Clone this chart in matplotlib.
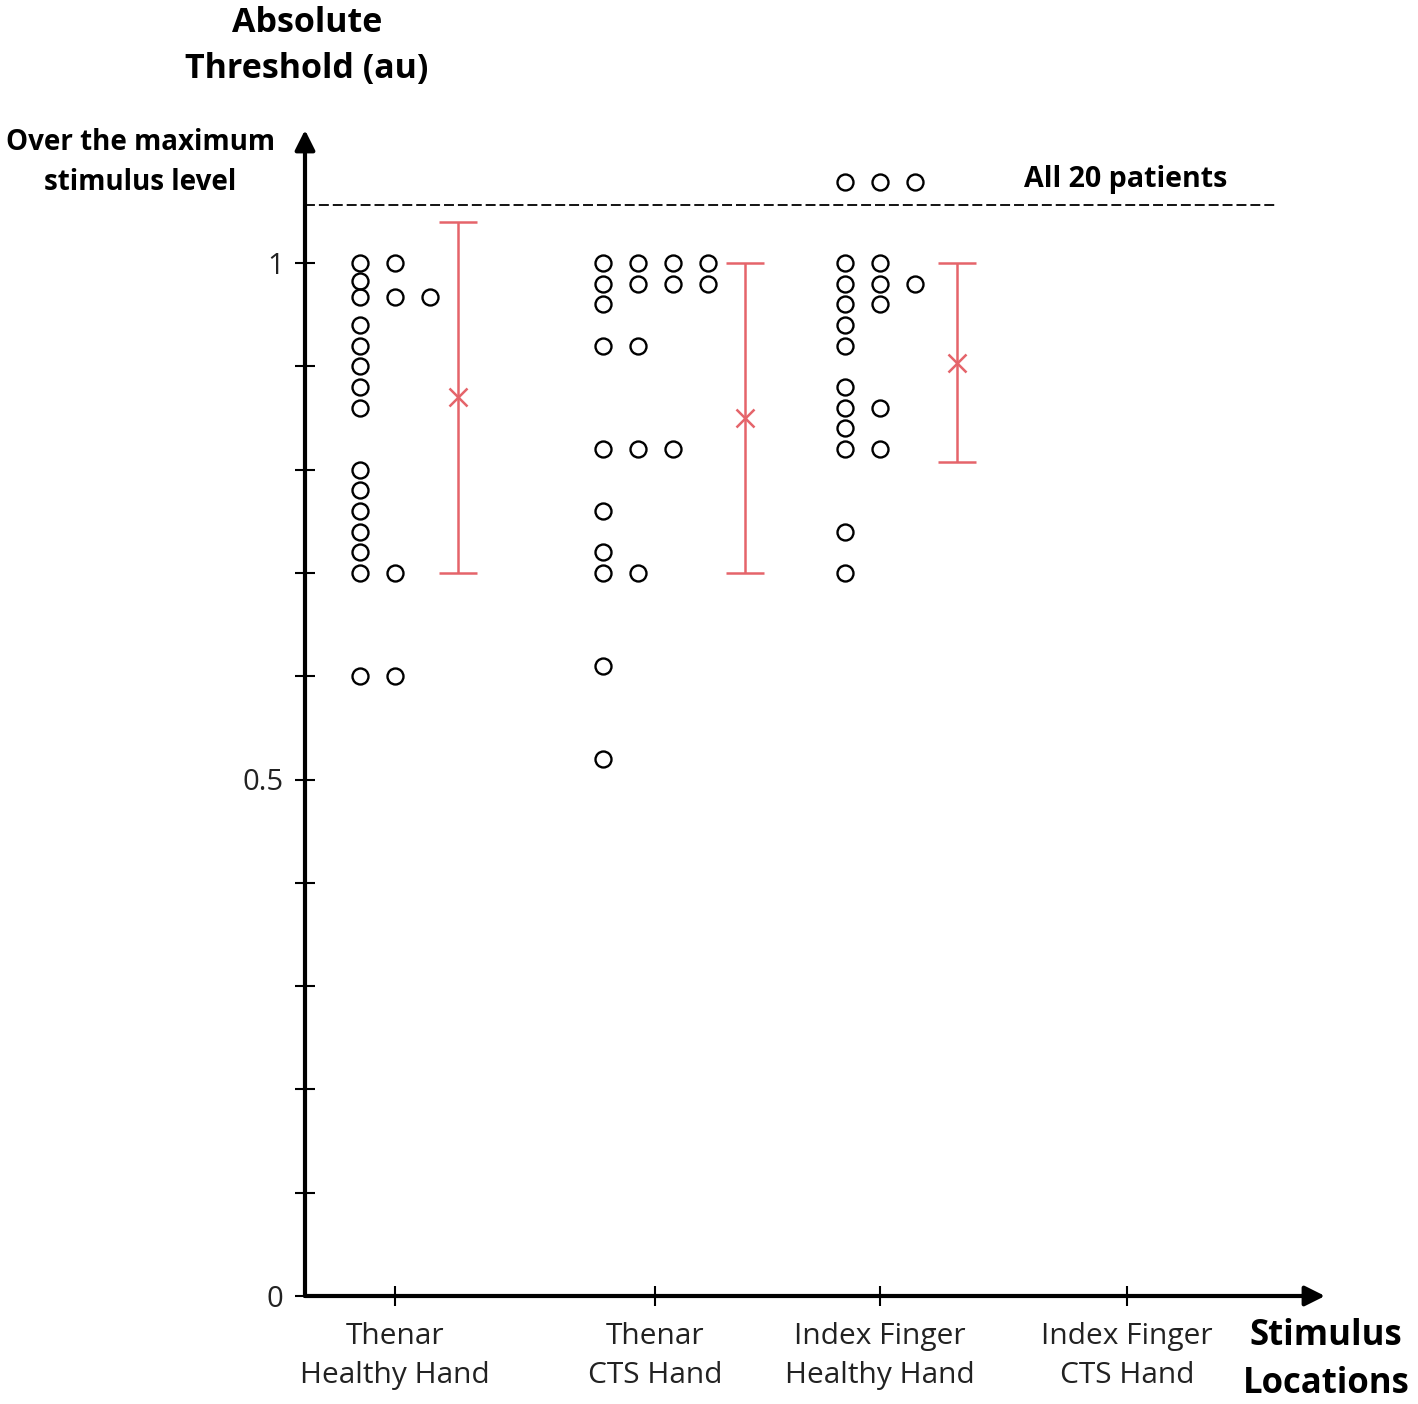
import matplotlib
matplotlib.use('Agg')
import matplotlib.pyplot as plt
import numpy as np

plt.rcParams['font.family'] = ['Open Sans', 'DejaVu Sans']

# categories along the x axis
categories = ['Thenar\nHealthy Hand', 'Thenar\nCTS Hand',
              'Index Finger\nHealthy Hand', 'Index Finger\nCTS Hand']

# absolute thresholds (au), one list per column of circles
thenar_healthy = [[1.0, 0.983, 0.967, 0.94, 0.92, 0.90, 0.88, 0.86,
                   0.80, 0.78, 0.76, 0.74, 0.72, 0.70, 0.60],
                  [1.0, 0.967, 0.70, 0.60],
                  [0.967]]
thenar_cts = [[1.0, 0.98, 0.96, 0.92, 0.82, 0.76, 0.72, 0.70, 0.61, 0.52],
              [1.0, 0.98, 0.92, 0.82, 0.70],
              [1.0, 0.98, 0.82],
              [1.0, 0.98]]
index_healthy = [[1.0, 0.98, 0.96, 0.94, 0.92, 0.88, 0.86, 0.84, 0.82, 0.74, 0.70],
                 [1.0, 0.98, 0.96, 0.86, 0.82],
                 [0.98]]
index_cts = []
groups = [thenar_healthy, thenar_cts, index_healthy, index_cts]

# patients above the maximum stimulus level (per group, count)
over_max_count = [0, 0, 3, 0]
over_max_level = 1.078
max_stim_level = 1.056

# mean and range shown in red
err_mean = [0.870, 0.850, 0.903]
err_low = [0.70, 0.70, 0.807]
err_high = [1.04, 1.00, 1.00]

# layout (x axis in arbitrary units)
cat_pos = [0.90, 3.50, 5.75, 8.22]
err_pos = [1.53, 4.40, 6.52]
col_step = 0.35

W, H = 1418, 1404
fig = plt.figure(figsize=(W / 100, H / 100), dpi=100)
ax = fig.add_axes([305 / W, 108 / H, 1020 / W, 1166 / H])
ax.set_xlim(0, 10.20)
ax.set_ylim(0, 1166 / 1033)

for spine in ax.spines.values():
    spine.set_visible(False)

arrow = dict(arrowstyle='-|>,head_length=0.6,head_width=0.3', lw=3, color='k',
             mutation_scale=20, shrinkA=0, shrinkB=0)
ax.annotate('', xy=(0, 1), xytext=(0, 0), xycoords='axes fraction', arrowprops=arrow)
ax.annotate('', xy=(1, 0), xytext=(0, 0), xycoords='axes fraction', arrowprops=arrow)

circ = dict(ls='none', marker='o', mfc='none', mec='k', ms=11.5, mew=1.7, clip_on=False)
for g, cols in enumerate(groups):
    n = len(cols)
    for c, vals in enumerate(cols):
        x = cat_pos[g] + (c - (n - 1) / 2) * col_step
        ax.plot([x] * len(vals), vals, **circ)
    if over_max_count[g]:
        k = over_max_count[g]
        xs = [cat_pos[g] + (c - (k - 1) / 2) * col_step for c in range(k)]
        ax.plot(xs, [over_max_level] * k, **circ)

red = '#E5646A'
for i in range(len(err_mean)):
    ax.errorbar(err_pos[i], err_mean[i],
                yerr=[[err_mean[i] - err_low[i]], [err_high[i] - err_mean[i]]],
                fmt='x', color=red, ms=13, mew=1.8, elinewidth=1.8,
                capsize=14, capthick=1.8)

ax.plot([0, 9.70], [max_stim_level] * 2, color='k', lw=1.3, ls='--', dashes=(5.5, 2.2))

yt = np.round(np.arange(0, 1.01, 0.1), 1)
ax.set_yticks(yt)
ax.set_yticklabels(['0' if v == 0 else '0.5' if v == 0.5 else '1' if v == 1 else '' for v in yt])
ax.tick_params(axis='y', direction='inout', length=15, width=1.5, labelsize=21,
               pad=8, colors='k', labelcolor='#222222')
ax.set_xticks(cat_pos)
ax.set_xticklabels(categories)
ax.tick_params(axis='x', direction='inout', length=15, width=1.5, labelsize=21.5,
               pad=11, labelcolor='#222222')
for lbl in ax.get_xticklabels():
    lbl.set_linespacing(1.45)


def px(x, y):
    return x / W, 1 - y / H


fig.text(*px(307, 46), 'Absolute\nThreshold (au)', ha='center', va='center',
         fontsize=24.5, fontweight='bold', linespacing=1.45)
fig.text(*px(140, 162), 'Over the maximum\nstimulus level', ha='center', va='center',
         fontsize=20, fontweight='bold', linespacing=1.5)
fig.text(*px(1024, 179), 'All 20 patients', ha='left', va='center',
         fontsize=20.6, fontweight='bold')
fig.text(*px(1326, 1360), 'Stimulus\nLocations', ha='center', va='center',
         fontsize=25, fontweight='bold', linespacing=1.45)

fig.savefig('out.png', dpi=100)
